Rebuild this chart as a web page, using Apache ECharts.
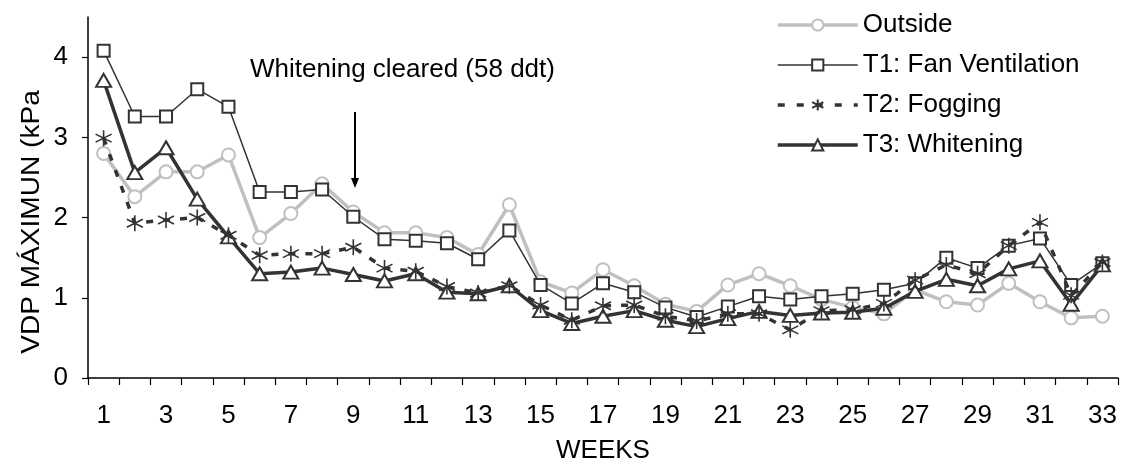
<!DOCTYPE html>
<html>
<head>
<meta charset="utf-8">
<script src="https://cdn.jsdelivr.net/npm/echarts@6/dist/echarts.min.js"></script>
<style>
html,body{margin:0;padding:0;background:#fff;}
#chart{width:1127px;height:464px;}
</style>
</head>
<body>
<div id="chart"></div>
<script>
const weeks = Array.from({length: 33}, (_, i) => String(i + 1));
const outside = [2.80, 2.26, 2.57, 2.57, 2.78, 1.75, 2.05, 2.42, 2.07, 1.81, 1.81, 1.75, 1.54, 2.16, 1.20, 1.06, 1.35, 1.15, 0.92, 0.83, 1.16, 1.30, 1.15, 0.98, 0.88, 0.80, 1.10, 0.95, 0.91, 1.18, 0.95, 0.75, 0.77];
const t1Fan = [4.08, 3.26, 3.26, 3.60, 3.38, 2.32, 2.32, 2.35, 2.01, 1.73, 1.71, 1.68, 1.48, 1.84, 1.16, 0.93, 1.18, 1.07, 0.88, 0.76, 0.89, 1.02, 0.98, 1.02, 1.05, 1.10, 1.18, 1.50, 1.37, 1.65, 1.74, 1.16, 1.43];
const t2Fog = [2.99, 1.93, 1.97, 2.00, 1.78, 1.53, 1.55, 1.55, 1.63, 1.37, 1.33, 1.14, 1.06, 1.15, 0.91, 0.72, 0.90, 0.91, 0.77, 0.71, 0.80, 0.80, 0.60, 0.84, 0.85, 0.93, 1.22, 1.41, 1.30, 1.65, 1.94, 1.03, 1.44];
const t3White = [3.71, 2.56, 2.87, 2.23, 1.76, 1.30, 1.32, 1.37, 1.29, 1.21, 1.30, 1.07, 1.05, 1.15, 0.84, 0.68, 0.77, 0.84, 0.72, 0.64, 0.74, 0.83, 0.78, 0.81, 0.82, 0.87, 1.08, 1.23, 1.15, 1.36, 1.46, 0.92, 1.41];
const yTicks = [0, 1, 2, 3, 4];
const seriesNames = ['Outside', 'T1: Fan Ventilation', 'T2: Fogging', 'T3: Whitening'];

const FONT = 'Liberation Sans, Arial, sans-serif';
const FS = 26;
const asterisk = 'path://M5,0L5,10M0.7,2.5L9.3,7.5M9.3,2.5L0.7,7.5';

const chart = echarts.init(document.getElementById('chart'), null, {renderer: 'canvas'});
chart.setOption({
  backgroundColor: '#ffffff',
  animation: false,
  textStyle: {fontFamily: FONT},
  grid: {left: 88, right: 9, top: 17, bottom: 86, containLabel: false, outerBoundsMode: 'none'},
  legend: {
    orient: 'vertical',
    left: 771,
    top: 7,
    itemWidth: 80,
    itemHeight: 14,
    itemGap: 14,
    data: [
      {name: seriesNames[0], lineStyle: {width: 3.5}},
      {name: seriesNames[1], lineStyle: {width: 1.5}},
      {name: seriesNames[2], lineStyle: {width: 3.5, type: [7, 12]}},
      {name: seriesNames[3], lineStyle: {width: 3.5}}
    ],
    textStyle: {fontSize: FS, color: '#000', fontFamily: FONT}
  },
  xAxis: {
    type: 'category',
    data: weeks,
    boundaryGap: true,
    name: 'WEEKS',
    nameLocation: 'middle',
    nameGap: 60,
    nameTextStyle: {fontSize: FS, color: '#000', fontFamily: FONT},
    axisLine: {lineStyle: {color: '#000', width: 1.5}},
    axisTick: {show: true, interval: 0, length: 7, lineStyle: {color: '#000', width: 1.2}},
    axisLabel: {interval: 1, fontSize: FS, color: '#000', margin: 25, fontFamily: FONT},
    splitLine: {show: false}
  },
  yAxis: {
    type: 'value',
    min: 0,
    max: 4.5,
    interval: 1,
    axisLine: {show: true, lineStyle: {color: '#000', width: 1.5}},
    axisTick: {show: true, length: 6, customValues: yTicks, lineStyle: {color: '#000', width: 1.2}},
    axisLabel: {fontSize: FS, color: '#000', margin: 20, customValues: yTicks, fontFamily: FONT},
    splitLine: {show: false}
  },
  graphic: [
    {
      type: 'text',
      x: 32, y: 222,
      rotation: Math.PI / 2,
      scaleX: 1.08,
      style: {text: 'VDP MÁXIMUN (kPa', fill: '#000', font: '26px Liberation Sans, Arial, sans-serif', align: 'center', verticalAlign: 'middle'}
    },
    {
      type: 'text',
      x: 250, y: 70,
      style: {text: 'Whitening cleared (58 ddt)', fill: '#000', font: '26px Liberation Sans, Arial, sans-serif', align: 'left', verticalAlign: 'middle'}
    },
    {
      type: 'line',
      shape: {x1: 355, y1: 112, x2: 355, y2: 180},
      style: {stroke: '#000', lineWidth: 2}
    },
    {
      type: 'polygon',
      shape: {points: [[351, 178], [359, 178], [355, 188]]},
      style: {fill: '#000'}
    }
  ],
  series: [
    {
      name: seriesNames[0], type: 'line', data: outside, z: 2,
      symbol: 'circle', symbolSize: 13,
      lineStyle: {color: '#c0c0c0', width: 3.5},
      itemStyle: {color: '#ffffff', borderColor: '#c0c0c0', borderWidth: 2}
    },
    {
      name: seriesNames[1], type: 'line', data: t1Fan, z: 3,
      symbol: 'rect', symbolSize: 12,
      lineStyle: {color: '#333333', width: 1.5},
      itemStyle: {color: '#ffffff', borderColor: '#333333', borderWidth: 2}
    },
    {
      name: seriesNames[3], type: 'line', data: t3White, z: 4,
      symbol: 'triangle', symbolSize: [15, 13],
      lineStyle: {color: '#333333', width: 3.5},
      itemStyle: {color: '#ffffff', borderColor: '#333333', borderWidth: 2}
    },
    {
      name: seriesNames[2], type: 'line', data: t2Fog, z: 5,
      symbol: asterisk, symbolSize: 16,
      lineStyle: {color: '#333333', width: 3.5, type: [7, 10]},
      itemStyle: {color: 'none', borderColor: '#333333', borderWidth: 1.6}
    }
  ]
});
</script>
</body>
</html>
